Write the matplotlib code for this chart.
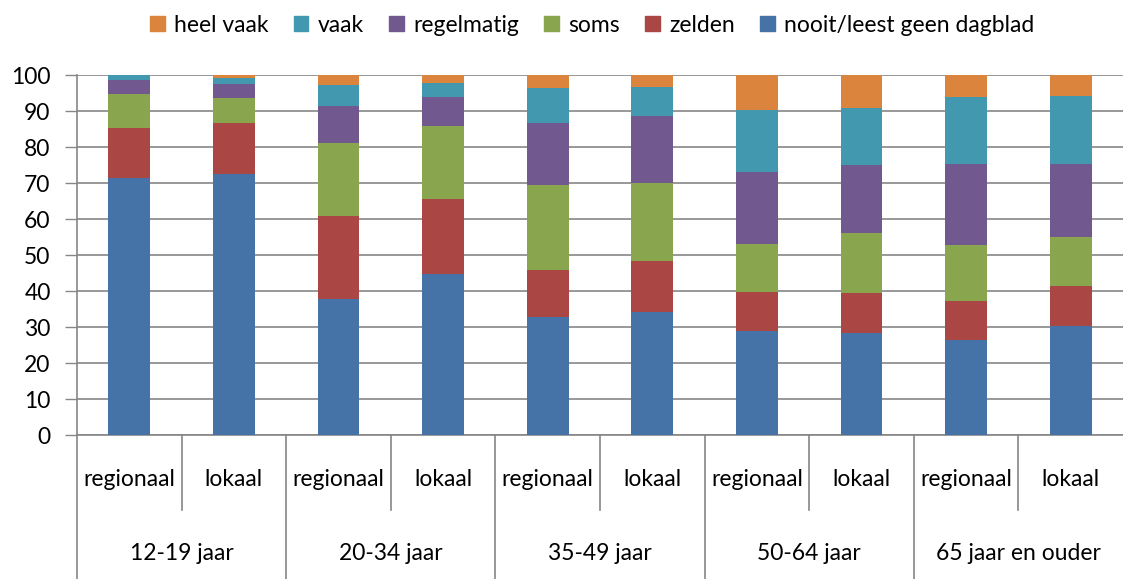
import matplotlib.pyplot as plt
from matplotlib.patches import Patch
import numpy as np

plt.rcParams['font.family'] = ['Lato', 'DejaVu Sans']

groups = ['12-19 jaar', '20-34 jaar', '35-49 jaar', '50-64 jaar', '65 jaar en ouder']
subs = ['regionaal', 'lokaal']

series = ['nooit/leest geen dagblad', 'zelden', 'soms', 'regelmatig', 'vaak', 'heel vaak']
nooit      = [71.5, 72.6, 37.8, 44.8, 32.8, 34.3, 28.9, 28.3, 26.5, 30.4]
zelden     = [13.8, 14.1, 23.0, 20.8, 13.1, 14.0, 10.9, 11.1, 10.7, 11.0]
soms       = [9.4, 6.9, 20.3, 20.2, 23.5, 21.7, 13.3, 16.7, 15.6, 13.6]
regelmatig = [3.9, 3.9, 10.3, 8.1, 17.3, 18.7, 20.0, 18.9, 22.5, 20.3]
vaak       = [1.3, 1.8, 5.8, 3.9, 9.8, 8.0, 17.2, 15.8, 18.6, 19.0]
heel_vaak  = [0.1, 0.7, 2.8, 2.2, 3.5, 3.3, 9.7, 9.2, 6.1, 5.7]

colors = ['#4572A7', '#AA4643', '#89A54E', '#71588F', '#4198AF', '#DB843D']
grey = '#868686'
fs = 16.5

fig = plt.figure(figsize=(11.23, 5.79), dpi=100)
ax = fig.add_axes([77 / 1123, 1 - 435 / 579, 1 - 77 / 1123, 360 / 579])

x = np.arange(len(nooit))
bottom = np.zeros(len(nooit))
for vals, col, name in zip([nooit, zelden, soms, regelmatig, vaak, heel_vaak], colors, series):
    ax.bar(x, vals, width=0.4, bottom=bottom, color=col, label=name, zorder=3)
    bottom += np.array(vals)

ax.set_xlim(-0.5, len(nooit) - 0.5)
ax.set_ylim(0, 100)
ax.set_yticks(range(0, 101, 10))
ax.yaxis.grid(True, color=grey, linewidth=1.2, zorder=0)
ax.tick_params(axis='y', length=9, width=1, color=grey, labelsize=fs, pad=10)
ax.set_xticks([])
for s in ['top', 'right']:
    ax.spines[s].set_visible(False)
for s in ['left', 'bottom']:
    ax.spines[s].set_color(grey)
    ax.spines[s].set_linewidth(1.2)

# two-level category axis
trans = ax.get_xaxis_transform()
for i in range(len(nooit)):
    ax.text(i, -0.125, subs[i % 2], transform=trans, ha='center', va='center', fontsize=fs)
    edge = i - 0.5
    if i % 2 == 0:
        ax.plot([edge, edge], [0, -0.41], transform=trans, color=grey, lw=1.2, clip_on=False)
    else:
        ax.plot([edge, edge], [0, -0.208], transform=trans, color=grey, lw=1.2, clip_on=False)
for g, name in enumerate(groups):
    ax.text(2 * g + 0.5, -0.328, name, transform=trans, ha='center', va='center', fontsize=fs)

handles = [Patch(color=c, label=n) for c, n in zip(colors[::-1], series[::-1])]
fig.legend(handles=handles, loc='center', bbox_to_anchor=(592 / 1123, 1 - 25 / 579), ncol=6,
           frameon=False, fontsize=fs, handlelength=0.65, handleheight=0.65,
           handletextpad=0.4, columnspacing=1.1)

fig.savefig('out.png', dpi=100)
